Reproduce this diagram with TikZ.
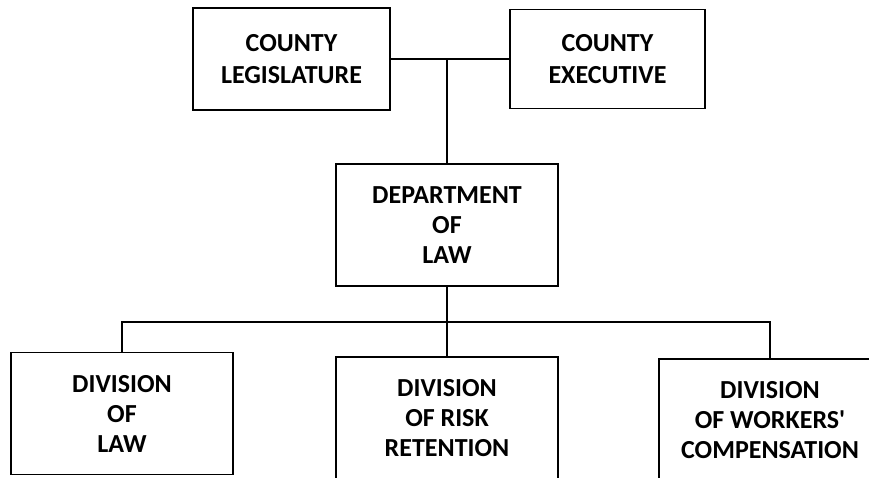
\documentclass[tikz,border=0pt]{standalone}
\usepackage{fontspec}
\setmainfont{Carlito}[Ligatures=TeXOff]
\begin{document}
\begin{tikzpicture}[x=1pt, y=-1pt,
    every node/.style={inner sep=0pt, rectangle, align=center, font=\bfseries\fontsize{26}{30}\selectfont},
    unit/.style={draw, line width=1.2pt, minimum width=222pt, minimum height=122pt},
    link/.style={line width=1.1pt}]
\useasboundingbox (0,0) rectangle (869,477);
% top level
\node [unit, minimum width=197pt, minimum height=102pt, font=\bfseries\fontsize{26}{32}\selectfont] (leg) at (291.5,59) {COUNTY\\LEGISLATURE};
\node [unit, minimum width=195pt, minimum height=99pt, font=\bfseries\fontsize{26}{32}\selectfont] (exec) at (607.5,59) {COUNTY\\EXECUTIVE};
% department
\node [unit] (dept) at (447,225) {DEPARTMENT\\OF\\LAW};
% divisions
\node [unit] (divlaw) at (122,413.5) {DIVISION\\OF\\LAW};
\node [unit] (divrisk) at (447,418) {DIVISION\\OF RISK\\RETENTION};
\node [unit] (divcomp) at (770,420) {DIVISION\\OF WORKERS'\\COMPENSATION};

\draw [link] (leg.east) -- (exec.west);
\coordinate (join) at (dept.north |- leg.east);
\draw [link] (join) -- (dept.north);
\draw [link] (dept.south) -- (divrisk.north);
\coordinate (bar) at (447,322);
\draw [link] (divlaw.north) |- (bar) -| (divcomp.north);

\end{tikzpicture}
\end{document}
